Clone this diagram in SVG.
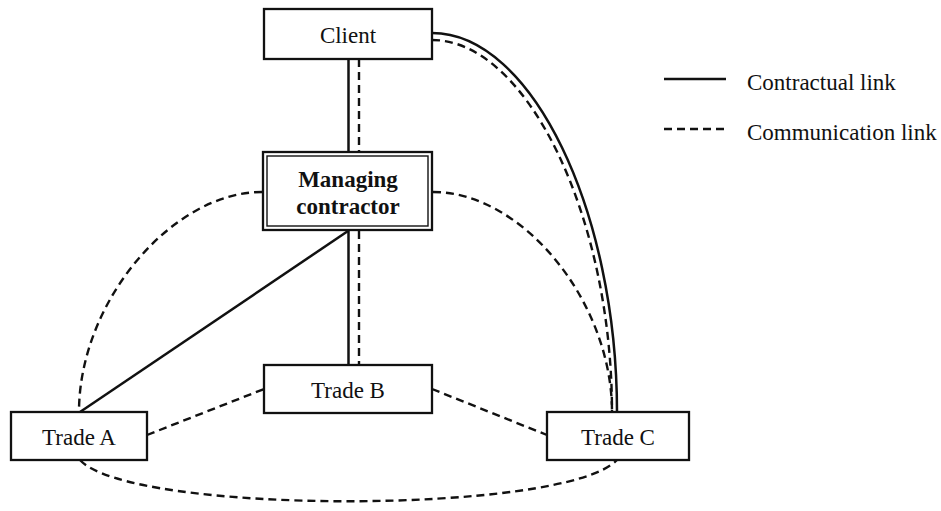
<svg xmlns="http://www.w3.org/2000/svg" width="941" height="511" viewBox="0 0 941 511">
  <style>
    .box { fill: #ffffff; stroke: #111111; stroke-width: 2.3; }
    .label { font-family: "Liberation Serif", "Times New Roman", serif; font-size: 23px; fill: #111111; }
    .bold { font-weight: bold; }
    .solid { fill: none; stroke: #111111; stroke-width: 2.5; }
    .dash { fill: none; stroke: #111111; stroke-width: 2.4; stroke-dasharray: 8 5; }
  </style>
  <rect x="0" y="0" width="941" height="511" fill="#ffffff"/>

  <!-- connectors -->
  <g id="connectors">
    <!-- client to managing contractor -->
    <line class="solid" x1="348.5" y1="59" x2="348.5" y2="151"/>
    <line class="dash" x1="359" y1="59" x2="359" y2="151"/>
    <!-- managing contractor to trade B -->
    <line class="solid" x1="348.5" y1="231" x2="348.5" y2="365"/>
    <line class="dash" x1="359" y1="231" x2="359" y2="365"/>
    <!-- managing contractor to trade A (contract) -->
    <line class="solid" x1="348" y1="231" x2="80" y2="412"/>
    <!-- managing contractor to trade A (communication arc) -->
    <path class="dash" d="M262,192 C172,192 79,302 79,412"/>
    <!-- managing contractor to trade C (communication arc) -->
    <path class="dash" d="M433,192 C523,192 612,302 612,412"/>
    <!-- client to trade C -->
    <path class="solid" d="M432,33 C532,33 617,212 617,412"/>
    <path class="dash" d="M432,40 C527,40 612,217 612,412"/>
    <!-- trades -->
    <line class="dash" x1="147" y1="435" x2="264" y2="389"/>
    <line class="dash" x1="432" y1="389" x2="547" y2="435"/>
    <path class="dash" d="M80,460 C130,515 565,515 617,460"/>
  </g>

  <g id="client">
    <rect class="box" x="264" y="9" width="168" height="50"/>
    <text class="label" x="348" y="43" text-anchor="middle">Client</text>
  </g>

  <g id="managing-contractor">
    <rect class="box" x="263" y="152" width="169" height="78"/>
    <rect fill="none" stroke="#111111" stroke-width="1.4" x="267" y="156" width="161" height="70"/>
    <text class="label bold" x="348" y="187" text-anchor="middle">Managing</text>
    <text class="label bold" x="348" y="214" text-anchor="middle">contractor</text>
  </g>

  <g id="trade-a">
    <rect class="box" x="11" y="412" width="136" height="48"/>
    <text class="label" x="79" y="445" text-anchor="middle">Trade A</text>
  </g>

  <g id="trade-b">
    <rect class="box" x="264" y="365" width="168" height="48"/>
    <text class="label" x="348" y="398" text-anchor="middle">Trade B</text>
  </g>

  <g id="trade-c">
    <rect class="box" x="547" y="412" width="142" height="48"/>
    <text class="label" x="618" y="445" text-anchor="middle">Trade C</text>
  </g>

  <g id="legend">
    <line class="solid" x1="664" y1="79" x2="726" y2="79"/>
    <text class="label" x="747" y="90">Contractual link</text>
    <line class="dash" x1="664" y1="129" x2="726" y2="129" stroke-dasharray="7 6"/>
    <text class="label" x="747" y="140">Communication link</text>
  </g>
</svg>
